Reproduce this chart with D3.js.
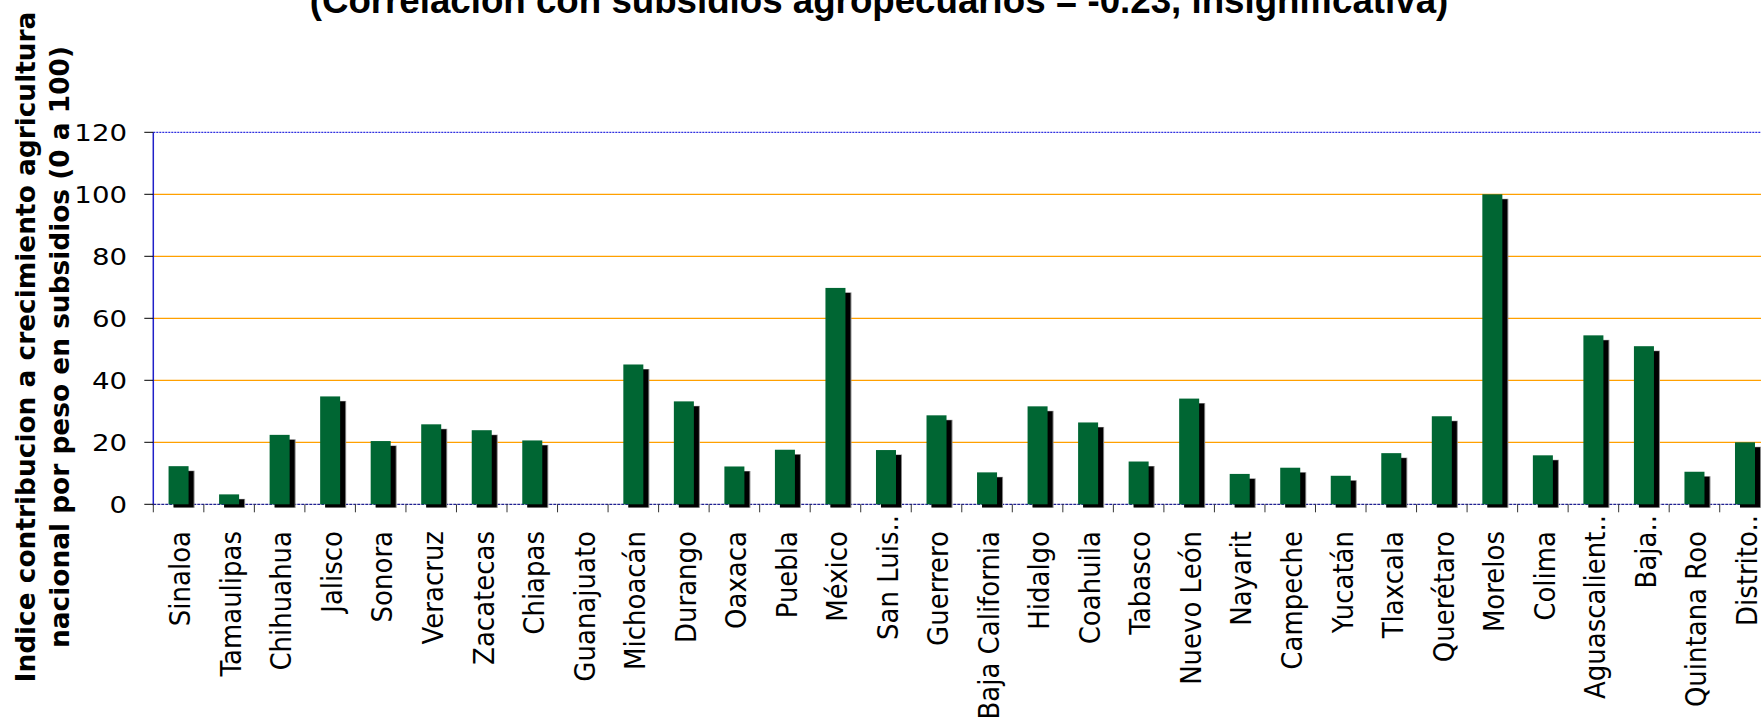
<!DOCTYPE html>
<html>
<head>
<meta charset="utf-8">
<script src="https://cdn.jsdelivr.net/npm/d3@7"></script>
<style>
  html, body { margin: 0; padding: 0; background: #fff; overflow: hidden; }
  svg { display: block; }
</style>
</head>
<body>
<svg id="chart" width="1761" height="724"></svg>
<script>
const categories = ["Sinaloa","Tamaulipas","Chihuahua","Jalisco","Sonora","Veracruz","Zacatecas","Chiapas","Guanajuato","Michoacán","Durango","Oaxaca","Puebla","México","San Luis..","Guerrero","Baja California","Hidalgo","Coahuila","Tabasco","Nuevo León","Nayarit","Campeche","Yucatán","Tlaxcala","Querétaro","Morelos","Colima","Aguascalient..","Baja..","Quintana Roo","Distrito.."];
const values = [12.3, 3.2, 22.4, 34.8, 20.4, 25.8, 23.9, 20.6, 0, 45.1, 33.2, 12.2, 17.6, 69.8, 17.5, 28.7, 10.3, 31.6, 26.4, 13.8, 34.1, 9.8, 11.8, 9.2, 16.5, 28.4, 100, 15.8, 54.5, 51.0, 10.5, 20.0];
const yTicks = [0, 20, 40, 60, 80, 100, 120];
const titleText = "(Correlacion con subsidios agropecuarios = -0.23, insignificativa)";
const yTitleLines = ["Indice contribucion a crecimiento agricultura", "nacional por peso en subsidios (0 a 100)"];

(function () {
const svg = d3.select("#chart");
const pLeft = 153.3, pTop = 132.3, pBottom = 504.3, pRight = 153.3 + 32 * 50.53;

const y = d3.scaleLinear().domain([0, 120]).range([pBottom, pTop]);
const xCat = d3.scaleBand().domain(categories).range([pLeft, pRight]).paddingInner(0).paddingOuter(0);
const xBar = d3.scaleBand().domain(categories).range([pLeft, pRight]).paddingInner(0.604).paddingOuter(0.302);

// gridlines
svg.append("g").selectAll("line").data(yTicks.filter(t => t > 0 && t < 120)).join("line")
  .attr("x1", pLeft).attr("x2", pRight)
  .attr("y1", d => y(d)).attr("y2", d => y(d))
  .attr("stroke", "#FFA000").attr("stroke-width", 1.2);

// plot border top (dotted blue)
svg.append("line").attr("x1", pLeft).attr("x2", pRight).attr("y1", y(120)).attr("y2", y(120))
  .attr("stroke", "#3030E0").attr("stroke-width", 1.3).attr("stroke-dasharray", "2,1");

// zero line
svg.append("line").attr("x1", pLeft).attr("x2", pRight).attr("y1", y(0)).attr("y2", y(0))
  .attr("stroke", "#202090").attr("stroke-width", 1.3).attr("stroke-dasharray", "3,1");

const data = categories.map((c, i) => ({ c, v: values[i] }));

// shadows (soft edge + solid core)
const withBars = data.filter(d => d.v > 0);
svg.append("g").selectAll("rect").data(withBars).join("rect")
  .attr("x", d => xBar(d.c) + 5)
  .attr("y", d => y(d.v) + 4.5)
  .attr("width", xBar.bandwidth() + 1)
  .attr("height", d => Math.max(0, y(0) - y(d.v) - 1))
  .attr("fill", "#888");
svg.append("g").selectAll("rect").data(withBars).join("rect")
  .attr("x", d => xBar(d.c) + 5)
  .attr("y", d => y(d.v) + 5)
  .attr("width", xBar.bandwidth())
  .attr("height", d => Math.max(0, y(0) - y(d.v) - 2))
  .attr("fill", "#000");

// bars
svg.append("g").selectAll("rect").data(withBars).join("rect")
  .attr("x", d => xBar(d.c))
  .attr("y", d => y(d.v))
  .attr("width", xBar.bandwidth())
  .attr("height", d => y(0) - y(d.v))
  .attr("fill", "#006633");

// left axis line
svg.append("line").attr("x1", pLeft).attr("x2", pLeft).attr("y1", y(120)).attr("y2", y(0) + 1)
  .attr("stroke", "#2020C8").attr("stroke-width", 1.5);

// y ticks
const yAxis = svg.append("g");
yAxis.selectAll("line").data(yTicks).join("line")
  .attr("x1", pLeft - 9).attr("x2", pLeft)
  .attr("y1", d => y(d)).attr("y2", d => y(d))
  .attr("stroke", "#000").attr("stroke-width", 1);
yAxis.selectAll("text").data(yTicks).join("text")
  .attr("transform", d => `translate(127,${y(d)}) scale(1.2,1)`)
  .attr("dy", "0.36em")
  .attr("text-anchor", "end")
  .attr("font-family", "DejaVu Sans, Verdana, sans-serif")
  .attr("font-size", "23px").attr("fill", "#000")
  .text(d => d);

// x tick marks at category boundaries
const bounds = categories.map(c => xCat(c)).concat([pRight]);
svg.append("g").selectAll("line").data(bounds).join("line")
  .attr("x1", d => d).attr("x2", d => d)
  .attr("y1", y(0)).attr("y2", y(0) + 8)
  .attr("stroke", "#333").attr("stroke-width", 1);

// x labels (truncated labels overflow past the label box)
svg.append("g").selectAll("text").data(categories).join("text")
  .attr("transform", d => `translate(${xCat(d) + xCat.bandwidth() / 2},${d.endsWith("..") ? 515 : 531}) rotate(-90) scale(1,1.08)`)
  .attr("dy", "0.42em")
  .attr("text-anchor", "end")
  .attr("font-family", "DejaVu Sans, Verdana, sans-serif")
  .attr("font-size", "26px").attr("fill", "#000")
  .text(d => d);

// y title
const yt = svg.append("text")
  .attr("transform", "translate(0,347) rotate(-90)")
  .attr("text-anchor", "middle")
  .attr("font-family", "DejaVu Sans, Verdana, sans-serif")
  .attr("font-weight", "bold")
  .attr("font-size", "26.4px").attr("fill", "#000");
yt.selectAll("tspan").data(yTitleLines).join("tspan")
  .attr("x", 0).attr("y", (d, i) => 35 + i * 33.5)
  .text(d => d);

// title
svg.append("text")
  .attr("x", 879).attr("y", 12.7)
  .attr("text-anchor", "middle")
  .attr("font-family", "Liberation Sans, Arial, sans-serif")
  .attr("font-weight", "bold")
  .attr("font-size", "36.7px").attr("fill", "#000")
  .text(titleText);
})();
</script>
</body>
</html>
